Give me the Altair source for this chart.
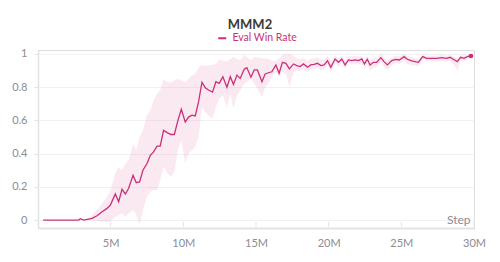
import altair as alt
import pandas as pd

PINK = "#c9307b"
GREY = "#8c8c94"

title_text = "MMM2"
series_name = "Eval Win Rate"
x_title = "Step"
x_ticks_m = [5, 10, 15, 20, 25, 30]
y_ticks = [0, 0.2, 0.4, 0.6, 0.8, 1]

steps_m = [0.35, 2.80, 2.91, 3.14, 3.49, 3.72, 4.06, 4.41, 4.75, 4.98,
           5.32, 5.55, 5.78, 6.01, 6.23, 6.54, 6.76, 6.99, 7.22, 7.50,
           7.73, 7.95, 8.19, 8.41, 8.64, 8.92, 9.15, 9.38, 9.63, 9.86,
           10.13, 10.36, 10.59, 10.82, 11.05, 11.28, 11.51, 11.73, 12.01, 12.24,
           12.47, 12.72, 13.00, 13.23, 13.45, 13.69, 13.91, 14.19, 14.37, 14.65,
           14.88, 15.10, 15.41, 15.63, 15.86, 16.09, 16.37, 16.59, 16.82, 17.06,
           17.30, 17.58, 17.81, 18.04, 18.27, 18.54, 18.77, 19.00, 19.23, 19.46,
           19.69, 19.92, 20.15, 20.44, 20.67, 20.90, 21.13, 21.36, 21.59, 21.82,
           22.05, 22.28, 22.46, 22.66, 22.85, 23.08, 23.31, 23.59, 23.81, 24.04,
           24.34, 24.62, 24.86, 25.19, 25.41, 25.72, 25.94, 26.17, 26.47, 26.75,
           27.09, 27.44, 27.78, 28.12, 28.35, 28.58, 28.85, 29.08, 29.31, 29.54,
           29.79]

mean = [0, 0, 0.008, 0, 0.006, 0.01, 0.026, 0.05, 0.07, 0.09,
        0.157, 0.11, 0.185, 0.157, 0.19, 0.27, 0.225, 0.23, 0.30, 0.34,
        0.39, 0.41, 0.445, 0.445, 0.54, 0.525, 0.515, 0.515, 0.60, 0.667,
        0.59, 0.62, 0.632, 0.627, 0.713, 0.83, 0.797, 0.783, 0.77, 0.833,
        0.823, 0.863, 0.80, 0.863, 0.817, 0.873, 0.853, 0.908, 0.918, 0.86,
        0.904, 0.904, 0.833, 0.88, 0.887, 0.893, 0.934, 0.884, 0.95, 0.944,
        0.91, 0.94, 0.93, 0.924, 0.94, 0.92, 0.934, 0.938, 0.944, 0.93,
        0.934, 0.96, 0.92, 0.97, 0.95, 0.97, 0.934, 0.964, 0.96, 0.964,
        0.96, 0.97, 0.94, 0.968, 0.934, 0.95, 0.95, 0.978, 0.954, 0.934,
        0.96, 0.968, 0.964, 0.984, 0.968, 0.958, 0.954, 0.95, 0.984, 0.974,
        0.974, 0.974, 0.978, 0.974, 0.98, 0.968, 0.954, 0.98, 0.974, 0.984,
        0.988]

lower = [0, 0, 0, 0, 0, 0, -0.005, -0.01, -0.01, -0.01,
         0.02, 0.03, 0.04, 0.02, 0.04, 0.06, 0.03, -0.03, 0.06, 0.14,
         0.17, 0.18, 0.18, 0.24, 0.32, 0.28, 0.26, 0.29, 0.42, 0.48,
         0.34, 0.40, 0.42, 0.44, 0.50, 0.68, 0.65, 0.63, 0.61, 0.68,
         0.73, 0.75, 0.68, 0.76, 0.67, 0.75, 0.78, 0.82, 0.83, 0.853,
         0.82, 0.79, 0.74, 0.80, 0.82, 0.86, 0.89, 0.86, 0.89, 0.88,
         0.80, 0.89, 0.90, 0.895, 0.91, 0.89, 0.91, 0.91, 0.92, 0.90,
         0.91, 0.93, 0.89, 0.95, 0.92, 0.95, 0.91, 0.945, 0.935, 0.94,
         0.935, 0.945, 0.91, 0.94, 0.90, 0.92, 0.92, 0.955, 0.92, 0.90,
         0.935, 0.945, 0.94, 0.96, 0.94, 0.93, 0.93, 0.925, 0.965, 0.96,
         0.96, 0.955, 0.96, 0.955, 0.96, 0.94, 0.90, 0.96, 0.955, 0.97,
         0.975]

upper = [0, 0, 0.01, 0, 0.015, 0.03, 0.06, 0.10, 0.14, 0.18,
         0.28, 0.32, 0.30, 0.34, 0.36, 0.46, 0.42, 0.50, 0.54, 0.63,
         0.66, 0.72, 0.76, 0.78, 0.85, 0.83, 0.83, 0.84, 0.85, 0.84,
         0.83, 0.85, 0.87, 0.88, 0.92, 0.934, 0.93, 0.93, 0.935, 0.94,
         0.968, 0.96, 0.954, 0.97, 0.984, 0.97, 0.964, 0.994, 0.98, 0.964,
         0.984, 0.98, 0.974, 0.974, 0.97, 0.96, 0.96, 0.975, 0.994, 1.0,
         1.0, 0.99, 0.975, 0.97, 0.975, 0.96, 0.97, 0.975, 0.98, 0.965,
         0.965, 0.99, 0.96, 0.99, 0.975, 0.99, 0.96, 0.985, 0.985, 0.99,
         0.985, 0.99, 0.965, 0.99, 0.96, 0.975, 0.975, 1.0, 0.98, 0.96,
         0.98, 0.99, 0.985, 1.0, 0.99, 0.98, 0.975, 0.97, 0.995, 0.99,
         0.99, 0.99, 0.995, 0.99, 0.995, 0.985, 0.975, 0.995, 0.99, 0.995,
         0.995]

df = pd.DataFrame({
    "step": [s * 1e6 for s in steps_m],
    "mean": mean,
    "lower": lower,
    "upper": upper,
    "series": series_name,
})
ticks_df = pd.DataFrame({"tick": [t * 1e6 for t in x_ticks_m]})

xscale = alt.Scale(domain=[0, 30e6], nice=False, zero=False)
yscale = alt.Scale(domain=[-0.048, 1.024], nice=False, zero=False)

x_axis = alt.Axis(
    values=[t * 1e6 for t in x_ticks_m],
    labelExpr="datum.value / 1000000 + 'M'",
    title=x_title, titleX=432, titleY=-9, titleAlign="right",
    titleBaseline="middle", titleFontWeight="normal", titleFontSize=12,
    titleColor=GREY, ticks=False, grid=False, labelPadding=9,
    labelOverlap=False, labelFlush=False,
    domainColor="#e3e3e6", domainWidth=2,
)
y_axis = alt.Axis(
    values=y_ticks, format="~g", title=None, grid=True,
    gridColor="#f1f1f3", tickSize=4, tickColor="#e3e3e6",
    labelOverlap=False, labelFlush=False,
    labelPadding=7, domainColor="#e3e3e6", domainWidth=1.5,
)

band = alt.Chart(df).mark_area(color="#e0468e", opacity=0.12).encode(
    x=alt.X("step:Q", scale=xscale, axis=x_axis),
    y=alt.Y("lower:Q", scale=yscale, axis=y_axis),
    y2="upper:Q",
)

tick_marks = alt.Chart(ticks_df).mark_rule(color="#e3e3e6", strokeWidth=1).encode(
    x=alt.X("tick:Q", scale=xscale, axis=x_axis),
    y=alt.value(172),
    y2=alt.value(177),
)

line = alt.Chart(df).mark_line(strokeWidth=1.3).encode(
    x=alt.X("step:Q", scale=xscale, axis=x_axis),
    y=alt.Y("mean:Q", scale=yscale, axis=y_axis),
    color=alt.Color("series:N", scale=alt.Scale(range=[PINK]), legend=alt.Legend(
        title=None, orient="none", legendX=179, legendY=-17, direction="horizontal",
        symbolType="stroke", symbolStrokeWidth=2, symbolSize=64,
        labelColor=PINK, labelFontSize=10.5, padding=0, labelOffset=5,
    )),
)

end_point = alt.Chart(df).transform_joinaggregate(
    maxstep="max(step)"
).transform_filter(
    alt.datum.step == alt.datum.maxstep
).mark_circle(size=22, opacity=1, color=PINK).encode(
    x=alt.X("step:Q", scale=xscale, axis=x_axis),
    y=alt.Y("mean:Q", scale=yscale, axis=y_axis),
)

chart = alt.layer(band, tick_marks, line, end_point).properties(
    width=436,
    height=178,
    title=alt.TitleParams(title_text, fontSize=13, fontWeight="bold", color="#3a3a3a",
                          anchor="middle", dx=-6, offset=1),
    autosize=alt.AutoSizeParams(type="none"),
    padding={"left": 30, "top": 42, "right": 18, "bottom": 26},
).configure_view(stroke=None).configure(
    font="Lato",
).configure_axis(
    labelColor=GREY, labelFontSize=11, labelFont="Lato",
).configure_legend(labelFont="Lato")

chart.save("out.html", embed_options={"renderer": "svg", "actions": False})
